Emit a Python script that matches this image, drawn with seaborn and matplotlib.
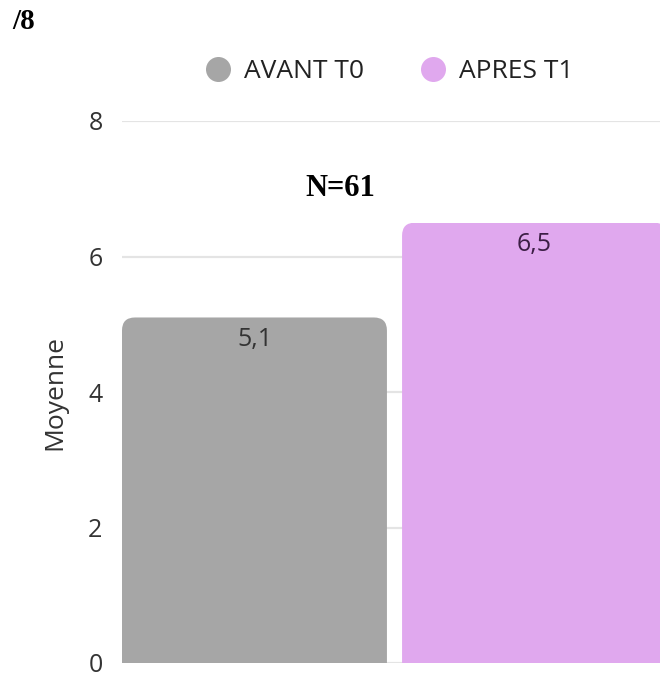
import matplotlib
matplotlib.use("Agg")
import matplotlib.pyplot as plt
from matplotlib.patches import FancyBboxPatch
from matplotlib.lines import Line2D
from matplotlib.transforms import Bbox
import seaborn as sns
import pandas as pd

# Mean score out of 8, before and after
periods = ["AVANT T0", "APRES T1"]
means = [5.1, 6.5]
value_labels = ["5,1", "6,5"]
bar_colors = ["#a6a6a6", "#e0a8ee"]
label_colors = ["#333333", "#3c1e45"]
y_ticks = [0, 2, 4, 6, 8]

sns.set_theme(style="white")
plt.rcParams["font.family"] = ["Open Sans", "DejaVu Sans"]

df = pd.DataFrame({"periode": periods, "moyenne": means})

W, H, DPI = 660, 677, 100
fig = plt.figure(figsize=(W / DPI, H / DPI), dpi=DPI)
ax = fig.add_axes([122 / W, 14 / H, (W - 122) / W, 542 / H])

sns.barplot(data=df, x="periode", y="moyenne", hue="periode",
            palette=bar_colors, width=0.946, legend=False, ax=ax,
            saturation=1, zorder=2)

ax.set_xlim(-0.473, 1.448)
ax.set_ylim(0, 8)
ax.set_yticks(y_ticks)
ax.set_yticklabels([str(t) for t in y_ticks])
ax.tick_params(axis="y", length=0, pad=14, labelsize=18, labelcolor="#333333")
ax.set_xticks([])
ax.set_xlabel("")
ax.set_ylabel("Moyenne", fontsize=19, color="#333333", labelpad=15)
for s in ax.spines.values():
    s.set_visible(False)

for t in y_ticks:
    ax.axhline(t, color="#e4e4e4", lw=1.6, zorder=0)

# rounded top corners: clip each bar with a rounded box that extends below zero
x_unit = 280.0
y_unit = 67.75
r = 13 / x_unit
for bar in ax.patches:
    x0, w, h = bar.get_x(), bar.get_width(), bar.get_height()
    rounded = FancyBboxPatch((x0, -1), w, h + 1,
                             boxstyle=f"round,pad=0,rounding_size={r}",
                             mutation_aspect=x_unit / y_unit,
                             transform=ax.transData, facecolor="none",
                             edgecolor="none")
    bar.set_clip_path(rounded)
    bar.set_edgecolor("none")

for i, (v, lab, c) in enumerate(zip(means, value_labels, label_colors)):
    ax.annotate(lab, (i, v), xytext=(0, -7), textcoords="offset points",
                ha="center", va="top", fontsize=18, color=c)

handles = [Line2D([], [], marker="o", linestyle="none", markersize=18,
                  markerfacecolor=c, markeredgecolor="none") for c in bar_colors]
fig.legend(handles, periods, loc="center", bbox_to_anchor=(389 / W, 1 - 72 / H),
           ncol=2, frameon=False, fontsize=19, labelcolor="#222222",
           handletextpad=0.5, columnspacing=2.1, handlelength=1.0,
           borderpad=0, borderaxespad=0)

fig.text(340 / W, 1 - 188 / H, "N=61", ha="center", va="center",
         fontsize=22, fontweight="bold", family="Liberation Serif", color="black")
corner = fig.text(12 / W, 1 - 8 / H, "/8", ha="left", va="top",
                  fontsize=21, fontweight="bold", family="Liberation Serif",
                  color="black")
# the corner mark is cut along its lower edge
corner.set_clip_box(Bbox.from_extents(0, H - 32, W, H))
corner.set_clip_on(True)

fig.savefig("out.png", dpi=DPI)
